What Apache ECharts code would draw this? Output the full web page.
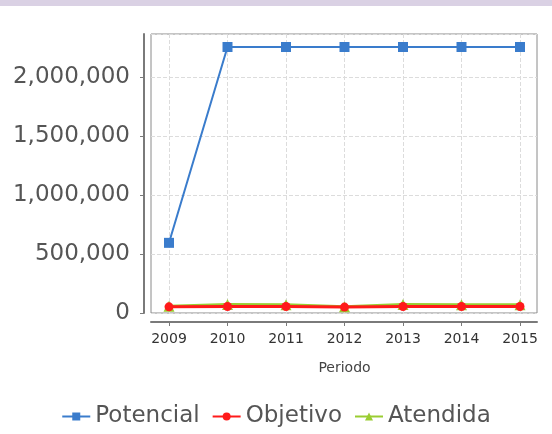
<!DOCTYPE html>
<html>
<head>
<meta charset="utf-8">
<script src="https://cdn.jsdelivr.net/npm/echarts@6/dist/echarts.min.js"></script>
<style>
  html, body { margin: 0; padding: 0; background: #fff; }
  #chart { width: 552px; height: 434px; }
</style>
</head>
<body>
<div id="chart"></div>
<script>
// periodos (eje x)
var periodos = ['2009', '2010', '2011', '2012', '2013', '2014', '2015'];
// series
var potencial = [594000, 2252000, 2252000, 2252000, 2252000, 2252000, 2252000];
var objetivo = [52000, 55000, 55000, 50000, 55000, 55000, 55000];
var atendida = [58000, 72000, 70000, 52000, 72000, 70000, 70000];
// eje y
var yMin = 0;
var yMax = 2362000;
var yPaso = 500000;

function miles(v) {
	return String(v).replace(/\B(?=(\d{3})+(?!\d))/g, ',');
}

var myChart = echarts.init(document.getElementById('chart'));
var option = {
	animation: false,
	textStyle: { fontFamily: 'DejaVu Sans' },
	graphic: [
		{	// franja superior
			type: 'rect',
			shape: { x: 0, y: 0, width: 552, height: 6 },
			style: { fill: '#dad1e4' },
			silent: true
		}
	],
	legend: {
		bottom: 1,
		left: 'center',
		itemWidth: 28,
		itemHeight: 10,
		itemGap: 12,
		textStyle: { fontSize: 23, color: '#555', fontFamily: 'DejaVu Sans' },
		data: ['Potencial', 'Objetivo', 'Atendida']
	},
	grid: [
		{	// marco del area de trazado
			left: 151, top: 34, width: 386, height: 279,
			show: true, borderColor: '#8a8a8a', borderWidth: 1, backgroundColor: '#fff'
		},
		{	// area de datos
			left: 169, top: 34, width: 351, height: 279
		}
	],
	xAxis: [
		{
			gridIndex: 0,
			type: 'category',
			data: periodos,
			offset: 9,
			axisLine: { show: true, onZero: false, lineStyle: { color: '#7a7a7a', width: 2 } },
			axisTick: { show: false },
			axisLabel: { show: false },
			splitLine: { show: false }
		},
		{
			gridIndex: 1,
			type: 'category',
			data: periodos,
			boundaryGap: false,
			offset: 9,
			axisLine: { show: false, onZero: false },
			axisTick: { show: true, alignWithLabel: true, length: 4, lineStyle: { color: '#7a7a7a' } },
			axisLabel: { fontSize: 14, color: '#333', margin: 10, fontFamily: 'DejaVu Sans' },
			splitLine: { show: true, lineStyle: { color: '#dcdcdc', type: 'dashed' } },
			name: 'Periodo',
			nameLocation: 'middle',
			nameGap: 39,
			nameTextStyle: { fontSize: 14, color: '#444', fontFamily: 'DejaVu Sans' }
		}
	],
	yAxis: [
		{
			gridIndex: 0,
			type: 'value',
			min: yMin,
			max: yMax,
			interval: yPaso,
			offset: 7,
			axisLine: { show: true, lineStyle: { color: '#7a7a7a', width: 2 } },
			axisTick: { show: true, length: 4, lineStyle: { color: '#7a7a7a' } },
			axisLabel: {
				fontSize: 23, color: '#555', margin: 14, fontFamily: 'DejaVu Sans',
				showMaxLabel: false,
				formatter: function (v) { return miles(v); }
			},
			splitLine: { show: true, lineStyle: { color: '#dcdcdc', type: 'dashed' } }
		},
		{
			gridIndex: 1,
			type: 'value',
			min: yMin,
			max: yMax,
			interval: yPaso,
			show: false
		}
	],
	series: [
		{
			name: 'Potencial',
			type: 'line',
			xAxisIndex: 1,
			yAxisIndex: 1,
			data: potencial,
			symbol: 'rect',
			symbolSize: 10,
			color: '#3a7ccc',
			lineStyle: { width: 2, color: '#3a7ccc' },
			itemStyle: { color: '#3a7ccc' }
		},
		{
			name: 'Atendida',
			type: 'line',
			xAxisIndex: 1,
			yAxisIndex: 1,
			data: atendida,
			symbol: 'triangle',
			symbolSize: 11,
			color: '#9acd32',
			lineStyle: { width: 3, color: '#9acd32' },
			itemStyle: { color: '#9acd32' }
		},
		{
			name: 'Objetivo',
			type: 'line',
			xAxisIndex: 1,
			yAxisIndex: 1,
			data: objetivo,
			symbol: 'circle',
			symbolSize: 9,
			color: '#ff1a1a',
			lineStyle: { width: 3, color: '#ff1a1a' },
			itemStyle: { color: '#ff1a1a' }
		}
	]
};
myChart.setOption(option, true);
</script>
</body>
</html>
